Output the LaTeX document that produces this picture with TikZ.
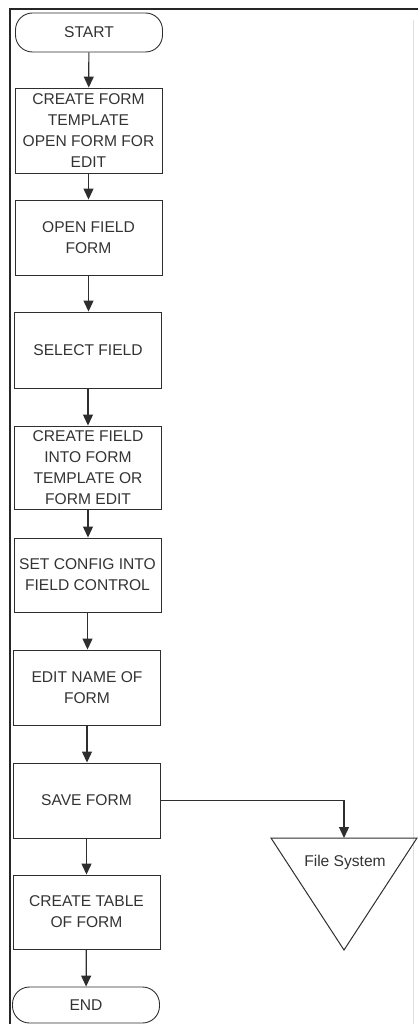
\documentclass[tikz,border=0pt]{standalone}
\usepackage{fontspec}
\setmainfont{Liberation Sans}
\usetikzlibrary{arrows.meta}

\definecolor{ink}{HTML}{2E2E2E}
\definecolor{txt}{HTML}{333333}

\tikzset{
  stepbox/.style={draw=ink, line width=0.9pt, minimum width=147pt, inner sep=0pt,
    align=center, text=txt, font=\fontsize{15.6}{21}\selectfont},
  term/.style={stepbox, rounded corners=17pt},
  flow/.style={draw=ink, line width=1.2pt, -{Triangle[length=11pt,width=10pt]}},
  frameline/.style={draw=black!85, line width=2pt}
}

\begin{document}
\begin{tikzpicture}[x=1pt,y=-1pt]
  \useasboundingbox (0,0) rectangle (418,1024);

  % page frame
  \draw[frameline] (9.5,1024) -- (9.5,9.5) -- (418,9.5);
  \draw[black!12, line width=0.8pt] (413,20) -- (413,1024);

  % flow steps
  \node[term, minimum height=39pt] (start) at (89,32.5) {START};
  \node[stepbox, minimum height=85pt] (tmpl) at (88.5,130.5)
    {CREATE FORM\\TEMPLATE\\OPEN FORM FOR\\EDIT};
  \node[stepbox, minimum height=75pt] (openf) at (88.5,237.5) {OPEN FIELD\\FORM};
  \node[stepbox, minimum height=76pt] (sel) at (88,350) {SELECT FIELD};
  \node[stepbox, minimum height=83pt] (crf) at (88,467.5)
    {CREATE FIELD\\INTO FORM\\TEMPLATE OR\\FORM EDIT};
  \node[stepbox, minimum height=74pt] (cfg) at (87.5,575) {SET CONFIG INTO\\FIELD CONTROL};
  \node[stepbox, minimum height=75pt] (name) at (87,687.5) {EDIT NAME OF\\FORM};
  \node[stepbox, minimum height=75pt] (save) at (86.5,800.5) {SAVE FORM};
  \node[stepbox, minimum height=74pt] (tbl) at (86.5,912) {CREATE TABLE\\OF FORM};
  \node[term, minimum height=36pt] (end) at (86,1005) {END};

  % file system store
  \draw[ink, line width=1pt, line join=miter] (271,838) -- (417,838) -- (344,950) -- cycle;
  \coordinate (fstop) at (344,838);
  \node[text=txt, font=\fontsize{15.6}{21}\selectfont] (fs) at (345,862) {File System};

  % connectors
  \draw[flow] (start) -- (tmpl);
  \draw[flow] (tmpl) -- (openf);
  \draw[flow] (openf.south) -- (openf.south |- sel.north);
  \draw[flow] (sel.south) -- (sel.south |- crf.north);
  \draw[flow] (crf.south) -- (crf.south |- cfg.north);
  \draw[flow] (cfg.south) -- (cfg.south |- name.north);
  \draw[flow] (name.south) -- (name.south |- save.north);
  \draw[flow] (save) -- (tbl);
  \draw[flow] (tbl) -- (end);
  \draw[flow] (save.east) -| (fstop);
\end{tikzpicture}
\end{document}
